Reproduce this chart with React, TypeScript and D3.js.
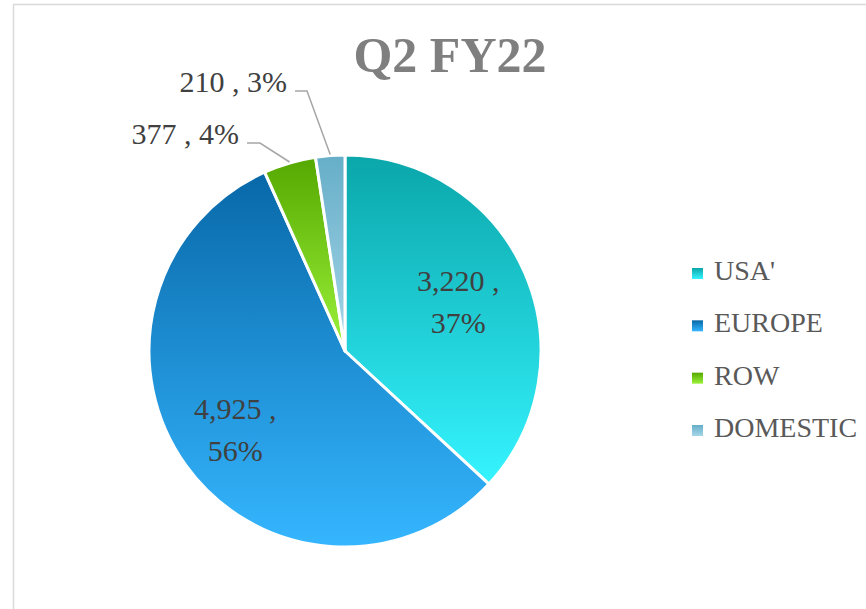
import React from "react";
import * as d3 from "d3";

const categories = ["USA'", "EUROPE", "ROW", "DOMESTIC"];
const values = [3220, 4925, 377, 210];
const percents = ["37%", "56%", "4%", "3%"];
const valueLabels = ["3,220", "4,925", "377", "210"];
const title = "Q2 FY22";

const gradTop = ["#0aa6aa", "#0868a8", "#55a800", "#66aec8"];
const gradBottom = ["#35f4ff", "#35b6ff", "#9cf23a", "#a6d6e8"];

const W = 866;
const H = 609;
const cx = 345;
const cy = 351;
const R = 196;
const FONT = "'Liberation Serif', 'Times New Roman', serif";

// label layout for outside labels: [text right x, baseline y]
const outsideLabelAnchor: Record<number, [number, number]> = {
  2: [239, 144],
  3: [287, 92],
};

export default function App() {
  const pie = d3
    .pie<number>()
    .sort(null)
    .value((d) => d)
    .startAngle(0)
    .endAngle(2 * Math.PI);
  const arcs = pie(values);
  const arc = d3.arc<d3.PieArcDatum<number>>().innerRadius(0).outerRadius(R);

  const legendY = d3.scalePoint<number>().domain(d3.range(categories.length)).range([280, 437]);

  return (
    <svg width={W} height={H} style={{ display: "block", position: "absolute", left: 0, top: 0 }}>
      <defs>
        {categories.map((c, i) => (
          <linearGradient key={c} id={`g${i}`} x1="0" y1="0" x2="0" y2="1">
            <stop offset="0" stopColor={gradTop[i]} />
            <stop offset="1" stopColor={gradBottom[i]} />
          </linearGradient>
        ))}
      </defs>
      <rect x={0} y={0} width={W} height={H} fill="#fff" />
      <rect x={13.5} y={4.5} width={W + 10} height={H + 10} fill="#fff" stroke="#d9d9d9" strokeWidth={1.5} />
      <text
        x={450}
        y={72}
        textAnchor="middle"
        fontFamily={FONT}
        fontWeight="bold"
        fontSize={50}
        fill="#7f7f7f"
      >
        {title}
      </text>
      <g transform={`translate(${cx},${cy})`}>
        {arcs.map((a, i) => (
          <path key={i} d={arc(a) || ""} fill={`url(#g${i})`} stroke="#fff" strokeWidth={3} strokeLinejoin="round" />
        ))}
      </g>
      {arcs.map((a, i) => {
        const mid = (a.startAngle + a.endAngle) / 2;
        const frac = a.endAngle - a.startAngle;
        if (frac > 0.5) {
          const k = i === 0 ? 0.63 : 0.69;
          const x = cx + Math.sin(mid) * R * k;
          const y = cy - Math.cos(mid) * R * k;
          return (
            <text key={i} textAnchor="middle" fontFamily={FONT} fontSize={30} fill="#404040">
              <tspan x={x} y={y - 11}>{`${valueLabels[i]} ,`}</tspan>
              <tspan x={x} y={y + 31}>{percents[i]}</tspan>
            </text>
          );
        }
        const [tx, ty] = outsideLabelAnchor[i];
        const ex = cx + Math.sin(mid) * R;
        const ey = cy - Math.cos(mid) * R;
        const lx0 = tx + 8;
        const ly = ty - 1;
        const lx1 = tx + (i === 2 ? 21 : 20);
        return (
          <g key={i}>
            <text x={tx} y={ty} textAnchor="end" fontFamily={FONT} fontSize={30} fill="#404040">
              {`${valueLabels[i]} , ${percents[i]}`}
            </text>
            <polyline
              points={`${lx0},${ly} ${lx1},${ly} ${ex},${ey - 1}`}
              fill="none"
              stroke="#a6a6a6"
              strokeWidth={1.5}
            />
          </g>
        );
      })}
      {categories.map((c, i) => (
        <g key={c}>
          <rect x={692} y={legendY(i)! - 12} width={11} height={11} fill={`url(#g${i})`} />
          <text x={714} y={legendY(i)} fontFamily={FONT} fontSize={28} fill="#595959">
            {c}
          </text>
        </g>
      ))}
    </svg>
  );
}
